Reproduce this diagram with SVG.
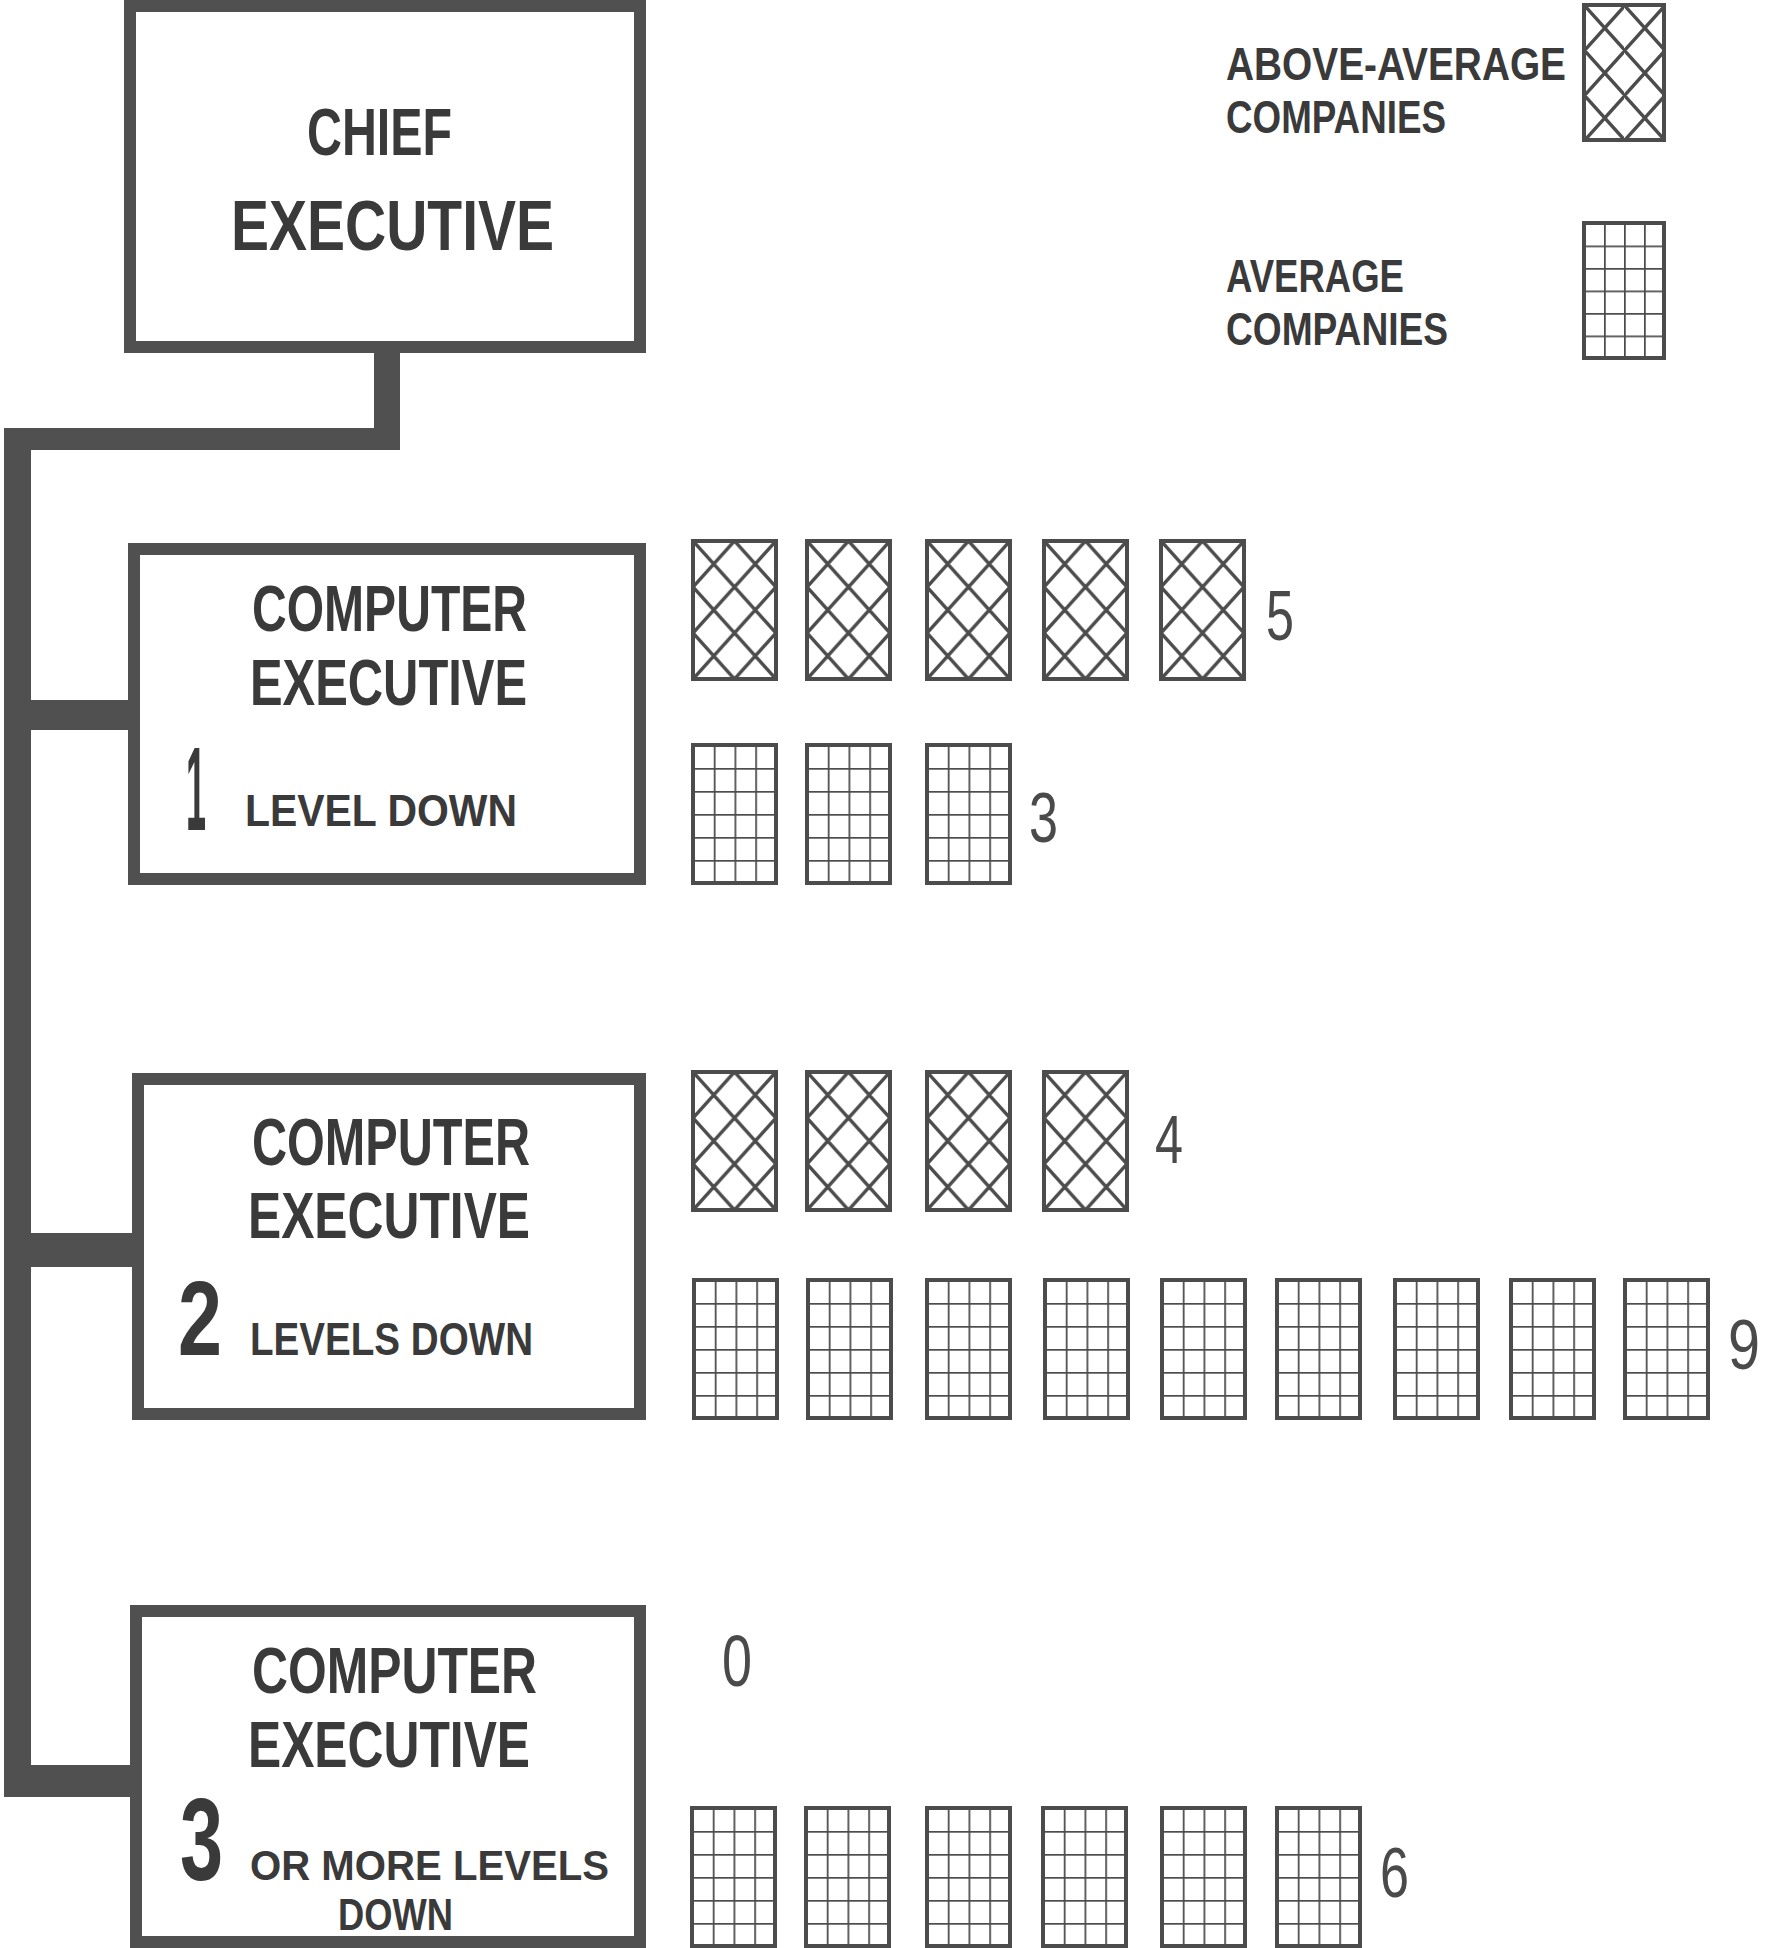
<svg xmlns="http://www.w3.org/2000/svg" width="1769" height="1948" viewBox="0 0 1769 1948">
  <style>
    .border { fill: none; stroke: #505050; stroke-width: 12; }
    .bar { fill: #505050; }
    .lbl { font-family: "Liberation Sans", Arial, sans-serif; font-weight: bold; fill: #3a3a3a; }
    .cnt { font-family: "Liberation Sans", Arial, sans-serif; font-weight: normal; fill: #4a4a4a; }
    .aa { fill: url(#pAbove); stroke: #4c4c4c; stroke-width: 4; }
    .av { fill: url(#pAvg); stroke: #4c4c4c; stroke-width: 4; }
  </style>
  <defs>
    <pattern id="pAbove" patternUnits="objectBoundingBox" width="0.5" height="0.3333">
      <path d="M0,0 L41.5,46 M41.5,0 L0,46" stroke="#4c4c4c" stroke-width="3.5" fill="none"/>
    </pattern>
    <pattern id="pAvg" patternUnits="objectBoundingBox" width="0.25" height="0.16667">
      <path d="M0,0 V23 M0,0 H20.75" stroke="#4c4c4c" stroke-width="3.5" fill="none"/>
    </pattern>
  </defs>
  <rect width="1769" height="1948" fill="#ffffff"/>

  <g id="connectors">
    <rect class="bar" x="374" y="347" width="26" height="103"/>
    <rect class="bar" x="4" y="428" width="396" height="22"/>
    <rect class="bar" x="4" y="428" width="27" height="1369"/>
    <rect class="bar" x="4" y="700" width="130" height="30"/>
    <rect class="bar" x="4" y="1233" width="134" height="34"/>
    <rect class="bar" x="4" y="1765" width="132" height="32"/>
  </g>

  <g id="node-chief">
    <rect class="border" x="130" y="6" width="510" height="341"/>
    <text class="lbl" x="307" y="155" font-size="67" textLength="145" lengthAdjust="spacingAndGlyphs">CHIEF</text>
    <text class="lbl" x="231" y="250" font-size="70" textLength="323" lengthAdjust="spacingAndGlyphs">EXECUTIVE</text>
  </g>

  <g id="node-level1">
    <rect class="border" x="134" y="549" width="506" height="330"/>
    <text class="lbl" x="252" y="631" font-size="64" textLength="275" lengthAdjust="spacingAndGlyphs">COMPUTER</text>
    <text class="lbl" x="250" y="705" font-size="64" textLength="277" lengthAdjust="spacingAndGlyphs">EXECUTIVE</text>
    <text class="lbl" x="186" y="830" font-size="118" textLength="20" lengthAdjust="spacingAndGlyphs">1</text>
    <text class="lbl" x="245" y="826" font-size="45" textLength="272" lengthAdjust="spacingAndGlyphs">LEVEL DOWN</text>
  </g>

  <g id="node-level2">
    <rect class="border" x="138" y="1079" width="502" height="335"/>
    <text class="lbl" x="252" y="1165" font-size="66" textLength="278" lengthAdjust="spacingAndGlyphs">COMPUTER</text>
    <text class="lbl" x="248" y="1238" font-size="64" textLength="282" lengthAdjust="spacingAndGlyphs">EXECUTIVE</text>
    <text class="lbl" x="178" y="1355" font-size="105" textLength="44" lengthAdjust="spacingAndGlyphs">2</text>
    <text class="lbl" x="250" y="1355" font-size="46" textLength="283" lengthAdjust="spacingAndGlyphs">LEVELS DOWN</text>
  </g>

  <g id="node-level3">
    <rect class="border" x="136" y="1611" width="504" height="331"/>
    <text class="lbl" x="252" y="1693" font-size="64" textLength="285" lengthAdjust="spacingAndGlyphs">COMPUTER</text>
    <text class="lbl" x="248" y="1767" font-size="64" textLength="282" lengthAdjust="spacingAndGlyphs">EXECUTIVE</text>
    <text class="lbl" x="180" y="1880" font-size="116" textLength="43" lengthAdjust="spacingAndGlyphs">3</text>
    <text class="lbl" x="250" y="1880" font-size="42" textLength="359" lengthAdjust="spacingAndGlyphs">OR MORE LEVELS</text>
    <text class="lbl" x="338" y="1930" font-size="44" textLength="115" lengthAdjust="spacingAndGlyphs">DOWN</text>
  </g>

  <g id="legend">
    <text class="lbl" x="1226" y="80" font-size="47" textLength="340" lengthAdjust="spacingAndGlyphs">ABOVE-AVERAGE</text>
    <text class="lbl" x="1226" y="133" font-size="47" textLength="220" lengthAdjust="spacingAndGlyphs">COMPANIES</text>
    <rect class="aa" x="1584" y="5" width="80" height="135"/>
    <text class="lbl" x="1226" y="292" font-size="47" textLength="178" lengthAdjust="spacingAndGlyphs">AVERAGE</text>
    <text class="lbl" x="1226" y="345" font-size="47" textLength="222" lengthAdjust="spacingAndGlyphs">COMPANIES</text>
    <rect class="av" x="1584" y="223" width="80" height="135"/>
  </g>

  <g id="bars-level1">
    <rect class="aa" x="693" y="541" width="83" height="138"/>
    <rect class="aa" x="807" y="541" width="83" height="138"/>
    <rect class="aa" x="927" y="541" width="83" height="138"/>
    <rect class="aa" x="1044" y="541" width="83" height="138"/>
    <rect class="aa" x="1161" y="541" width="83" height="138"/>
    <text class="cnt" x="1266" y="640" font-size="70" textLength="28" lengthAdjust="spacingAndGlyphs">5</text>
    <rect class="av" x="693" y="745" width="83" height="138"/>
    <rect class="av" x="807" y="745" width="83" height="138"/>
    <rect class="av" x="927" y="745" width="83" height="138"/>
    <text class="cnt" x="1029" y="842" font-size="70" textLength="29" lengthAdjust="spacingAndGlyphs">3</text>
  </g>

  <g id="bars-level2">
    <rect class="aa" x="693" y="1072" width="83" height="138"/>
    <rect class="aa" x="807" y="1072" width="83" height="138"/>
    <rect class="aa" x="927" y="1072" width="83" height="138"/>
    <rect class="aa" x="1044" y="1072" width="83" height="138"/>
    <text class="cnt" x="1155" y="1163" font-size="68" textLength="28" lengthAdjust="spacingAndGlyphs">4</text>
    <rect class="av" x="694" y="1280" width="83" height="138"/>
    <rect class="av" x="808" y="1280" width="83" height="138"/>
    <rect class="av" x="927" y="1280" width="83" height="138"/>
    <rect class="av" x="1045" y="1280" width="83" height="138"/>
    <rect class="av" x="1162" y="1280" width="83" height="138"/>
    <rect class="av" x="1277" y="1280" width="83" height="138"/>
    <rect class="av" x="1395" y="1280" width="83" height="138"/>
    <rect class="av" x="1511" y="1280" width="83" height="138"/>
    <rect class="av" x="1625" y="1280" width="83" height="138"/>
    <text class="cnt" x="1728" y="1369" font-size="70" textLength="32" lengthAdjust="spacingAndGlyphs">9</text>
  </g>

  <g id="bars-level3">
    <text class="cnt" x="722" y="1686" font-size="72" textLength="30" lengthAdjust="spacingAndGlyphs">0</text>
    <rect class="av" x="692" y="1808" width="83" height="138"/>
    <rect class="av" x="806" y="1808" width="83" height="138"/>
    <rect class="av" x="927" y="1808" width="83" height="138"/>
    <rect class="av" x="1043" y="1808" width="83" height="138"/>
    <rect class="av" x="1162" y="1808" width="83" height="138"/>
    <rect class="av" x="1277" y="1808" width="83" height="138"/>
    <text class="cnt" x="1380" y="1897" font-size="70" textLength="29" lengthAdjust="spacingAndGlyphs">6</text>
  </g>
</svg>
